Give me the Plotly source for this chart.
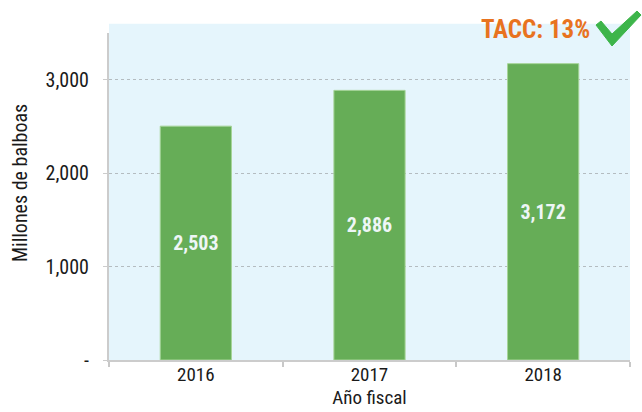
import plotly.graph_objects as go

years = ["2016", "2017", "2018"]
values = [2503, 2886, 3172]
tick_vals = [0, 1000, 2000, 3000]
tick_text = ["-", "1,000", "2,000", "3,000"]

FONT = "Roboto Condensed, Liberation Sans Narrow, Arial Narrow, Roboto, sans-serif"

fig = go.Figure(
    go.Bar(
        x=years, y=values, width=0.41,
        marker=dict(color="#66ad57", line=dict(color="#a6d498", width=1)),
        texttemplate="%{y:,}", textposition="inside", insidetextanchor="middle",
        textfont=dict(family=FONT, size=20, color="#eef6f6", weight="bold"),
        hoverinfo="skip",
    )
)

# light blue background reaching a bit above the axis top
fig.add_shape(type="rect", xref="paper", yref="paper", x0=0, x1=1, y0=0, y1=1.028,
              fillcolor="#e5f5fc", line_width=0, layer="below")

fig.add_annotation(text="<b>TACC: 13%</b>", xref="paper", yref="paper", x=0.819, y=1.012,
                   xanchor="center", yanchor="middle", showarrow=False,
                   font=dict(family=FONT, size=25, color="#e8731f"))

# y title sits a little above the plot's middle in the original
fig.add_annotation(text="Millones de balboas", xref="paper", yref="paper", x=-0.171, y=0.541,
                   xanchor="center", yanchor="middle", showarrow=False, textangle=-90,
                   font=dict(family=FONT, size=20, color="#1a1a1a"))

# green check mark drawn as a filled path, in pixels from the top-right plot corner
fig.add_shape(type="path", xref="paper", yref="paper", xsizemode="pixel", ysizemode="pixel",
              xanchor=1, yanchor=1,
              path="M -34 8 L -29 12 L -18 -1 L 7 22 L 11 18 L -18 -13 Z",
              fillcolor="#3db54a", line=dict(color="#3db54a", width=1))

fig.update_layout(
    width=642, height=412,
    margin=dict(l=109, r=12, t=33, b=52),
    paper_bgcolor="white", plot_bgcolor="rgba(0,0,0,0)",
    showlegend=False,
    font=dict(family=FONT, size=18, color="#1a1a1a"),
    xaxis=dict(
        title=dict(text="Año fiscal", standoff=2, font=dict(size=19)),
        tickson="boundaries", ticks="outside", ticklen=5, tickcolor="#c8c8c8", tickwidth=2,
        showline=True, linecolor="#cccccc", linewidth=2,
        ticklabelstandoff=-4,
        tickfont=dict(size=19), automargin=False,
    ),
    yaxis=dict(
        range=[0, 3500], tickvals=tick_vals, ticktext=tick_text,
        showgrid=True, gridcolor="#b4bcc0", griddash="dot", gridwidth=1,
        showline=True, linecolor="#cccccc", linewidth=2,
        ticks="outside", ticklen=4, tickcolor="#cccccc",
        ticklabelstandoff=10,
        tickfont=dict(size=20), zeroline=False, automargin=False,
    ),
)

# drop the page's default body margin so the figure sits at the window corner
fig.write_html("out.html", config={"displayModeBar": False},
               post_script="document.body.style.margin='0';")
